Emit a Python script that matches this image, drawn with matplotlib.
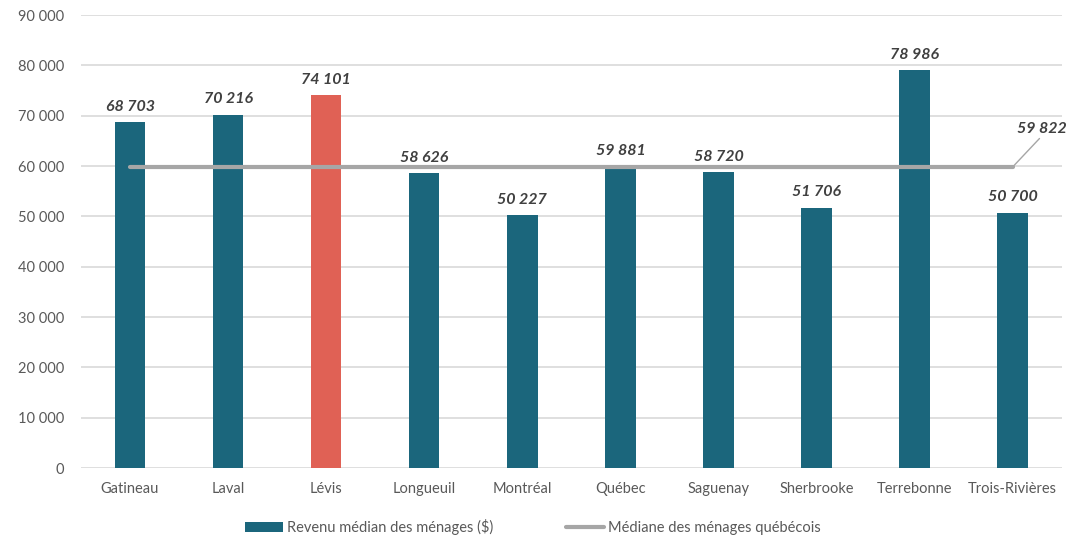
import numpy as np
import matplotlib.pyplot as plt
from matplotlib.ticker import FuncFormatter

villes = ['Gatineau', 'Laval', 'Lévis', 'Longueuil', 'Montréal', 'Québec',
          'Saguenay', 'Sherbrooke', 'Terrebonne', 'Trois-Rivières']
revenu = [68703, 70216, 74101, 58626, 50227, 59881, 58720, 51706, 78986, 50700]
mediane_qc = 59822

plt.rcParams['font.family'] = ['Lato', 'DejaVu Sans']

bleu = '#1b667c'
rouge = '#e06155'
gris = '#a6a6a6'
couleurs = [rouge if v == 'Lévis' else bleu for v in villes]

fig = plt.figure(figsize=(10.66, 5.4), dpi=100)
ax = fig.add_axes([0.076, 0.1333, 0.92, 0.8389])

x = np.arange(len(villes))
bars = ax.bar(x, revenu, width=0.31, color=couleurs, zorder=3,
              label='Revenu médian des ménages ($)')
ligne, = ax.plot([x[0], x[-1]], [mediane_qc, mediane_qc], color=gris, lw=3,
                 solid_capstyle='round', zorder=4,
                 label='Médiane des ménages québécois')

def fmt(v):
    return f'{v:,.0f}'.replace(',', ' ')

for xi, v in zip(x, revenu):
    ax.annotate(fmt(v), (xi, v), xytext=(0, 6), textcoords='offset points',
                ha='center', va='bottom', fontsize=11.5, fontweight='bold',
                fontstyle='italic', color='#404040')

# étiquette de la médiane avec trait de rappel
ax.annotate(fmt(mediane_qc), (x[-1], mediane_qc), xytext=(x[-1] + 0.3, mediane_qc + 6200),
            ha='center', va='bottom', fontsize=11.5, fontweight='bold', fontstyle='italic',
            color='#404040',
            arrowprops=dict(arrowstyle='-', color=gris, lw=1, shrinkA=0, shrinkB=0,
                            relpos=(0.5, 0)))

ax.set_xlim(-0.5, len(villes) - 0.5)
ax.set_ylim(0, 90000)
ax.set_yticks(np.arange(0, 90001, 10000))
ax.yaxis.set_major_formatter(FuncFormatter(lambda v, p: fmt(v)))
ax.set_xticks(x)
ax.set_xticklabels(villes)
ax.tick_params(axis='both', length=0, labelsize=10.5, colors='#595959')
ax.tick_params(axis='x', pad=10)
ax.tick_params(axis='y', pad=12)
ax.grid(axis='y', color='#d9d9d9', lw=1.2, zorder=0)
for s in ax.spines.values():
    s.set_visible(False)

fig.legend(handles=[bars, ligne], loc='lower center', ncol=2, frameon=False,
           bbox_to_anchor=(0.5, -0.015), fontsize=10.5, labelcolor='#595959',
           handlelength=2.6, columnspacing=5, handletextpad=0.3)

fig.savefig('out.png', dpi=100)
